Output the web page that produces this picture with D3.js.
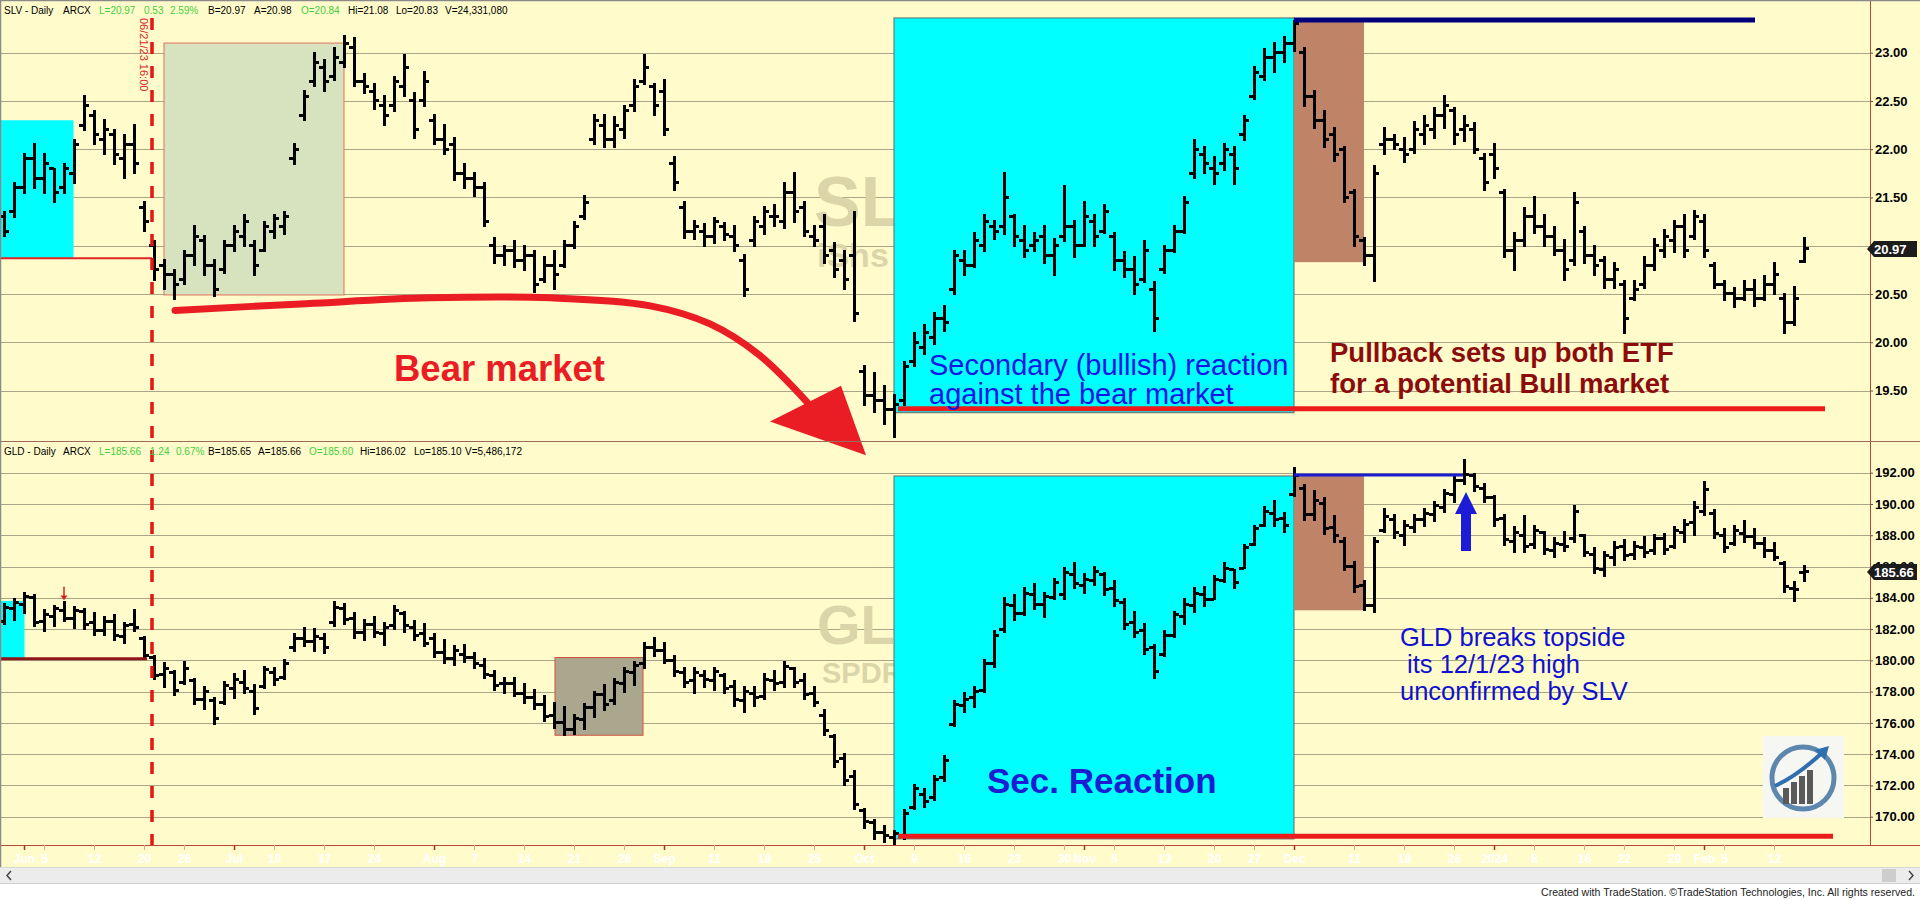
<!DOCTYPE html>
<html>
<head>
<meta charset="utf-8">
<script src="https://cdn.jsdelivr.net/npm/d3@7/dist/d3.min.js"></script>
<style>
  body { margin: 0; background: #fff; overflow: hidden; }
  svg { display: block; font-family: "Liberation Sans", Arial, sans-serif; }
</style>
</head>
<body>
<svg id="chart"></svg>
<script>
// header texts
const slvHeader = ['SLV - Daily', 'ARCX', 'L=20.97', '0.53', '2.59%', 'B=20.97', 'A=20.98', 'O=20.84', 'Hi=21.08', 'Lo=20.83', 'V=24,331,080'];
const gldHeader = ['GLD - Daily', 'ARCX', 'L=185.66', '1.24', '0.67%', 'B=185.65', 'A=185.66', 'O=185.60', 'Hi=186.02', 'Lo=185.10', 'V=5,486,172'];

// price axis ticks and last prices
const slvTicks = [19.5, 20, 20.5, 21, 21.5, 22, 22.5, 23];
const gldTicks = [170, 172, 174, 176, 178, 180, 182, 184, 186, 188, 190, 192];
const slvLast = 20.97;
const gldLast = 185.66;

// date axis: bar index (0 = May 30 2023) and label
const xTickIdx = [2, 4, 9, 14, 18, 23, 27, 32, 37, 43, 47, 52, 57, 62, 66, 71, 76, 81, 86, 91, 96, 101, 106, 108, 111, 116, 121, 125, 129, 135, 140, 145, 149, 153, 158, 162, 167, 170, 172, 177];
const xTickText = ['Jun', '5', '12', '20', '26', 'Jul', '10', '17', '24', 'Aug', '7', '14', '21', '28', 'Sep', '11', '18', '25', 'Oct', '9', '16', '23', '30', 'Nov', '6', '13', '20', '27', 'Dec', '11', '18', '26', '2024', '8', '16', '22', '29', 'Feb', '5', '12'];
const monthTicks = ['Jun', 'Jul', 'Aug', 'Sep', 'Oct', 'Nov', 'Dec', '2024', 'Feb'];

// SLV daily bars [open, high, low, close]
const slvBars = [
  [21.30,21.35,21.10,21.15],[21.35,21.65,21.30,21.60],[21.60,21.95,21.55,21.90],[21.90,22.05,21.60,21.70],[21.70,21.95,21.55,21.85],
  [21.80,21.80,21.45,21.55],[21.60,21.85,21.55,21.80],[21.75,22.10,21.65,22.05],[22.25,22.55,22.20,22.45],[22.35,22.40,22.05,22.15],
  [22.10,22.30,21.95,22.20],[22.15,22.20,21.85,21.95],[21.90,22.15,21.70,22.05],[22.05,22.25,21.75,21.85],[21.40,21.45,21.15,21.25],
  [21.00,21.05,20.65,20.75],[20.80,20.85,20.55,20.70],[20.70,20.75,20.45,20.60],[20.65,20.95,20.60,20.90],[20.90,21.20,20.80,21.10],
  [21.05,21.10,20.70,20.80],[20.80,20.85,20.48,20.55],[20.75,21.05,20.72,21.00],[21.00,21.20,20.95,21.15],[21.10,21.32,21.00,21.25],
  [21.00,21.05,20.70,20.80],[20.95,21.25,20.95,21.20],[21.15,21.32,21.08,21.28],[21.20,21.35,21.12,21.30],[21.90,22.05,21.85,22.00],
  [22.35,22.60,22.30,22.55],[22.70,23.00,22.65,22.90],[22.85,22.92,22.60,22.70],[22.75,23.05,22.72,22.95],[22.90,23.17,22.85,23.10],
  [23.05,23.15,22.65,22.70],[22.70,22.78,22.58,22.65],[22.60,22.68,22.42,22.50],[22.45,22.55,22.25,22.35],[22.45,22.75,22.40,22.70],
  [22.65,22.98,22.55,22.85],[22.50,22.58,22.12,22.20],[22.50,22.80,22.45,22.70],[22.30,22.35,22.05,22.10],[22.10,22.25,21.95,22.00],
  [22.05,22.12,21.68,21.75],[21.75,21.85,21.60,21.70],[21.70,21.75,21.52,21.60],[21.60,21.65,21.20,21.25],[21.00,21.08,20.82,20.90],
  [20.90,21.00,20.80,20.95],[20.95,21.05,20.78,20.85],[20.85,21.00,20.75,20.90],[20.90,20.95,20.52,20.60],[20.65,20.88,20.62,20.80],
  [20.80,20.95,20.55,20.70],[20.80,21.05,20.78,21.00],[21.00,21.25,20.98,21.20],[21.30,21.52,21.28,21.45],[22.10,22.35,22.05,22.30],
  [22.25,22.35,22.02,22.10],[22.10,22.33,22.02,22.25],[22.20,22.45,22.12,22.40],[22.45,22.72,22.40,22.65],[22.70,22.98,22.68,22.85],
  [22.65,22.68,22.35,22.45],[22.60,22.72,22.15,22.20],[21.85,21.92,21.58,21.65],[21.40,21.45,21.08,21.15],[21.15,21.26,21.07,21.20],
  [21.15,21.22,21.00,21.10],[21.10,21.29,21.03,21.25],[21.20,21.24,21.06,21.12],[21.10,21.20,20.95,21.00],[20.85,20.90,20.48,20.55],
  [21.05,21.30,21.00,21.25],[21.20,21.40,21.12,21.35],[21.30,21.42,21.20,21.30],[21.25,21.65,21.18,21.55],[21.55,21.75,21.25,21.35],
  [21.40,21.45,21.10,21.15],[21.10,21.20,21.00,21.05],[21.20,21.32,20.82,20.90],[20.95,21.03,20.68,20.75],[20.85,20.95,20.55,20.65],
  [20.90,21.35,20.22,20.30],[19.70,19.75,19.35,19.45],[19.45,19.68,19.28,19.40],[19.40,19.55,19.15,19.30],[19.30,19.45,19.02,19.35],
  [19.40,19.80,19.35,19.75],[19.80,20.10,19.75,20.00],[19.95,20.18,19.88,20.10],[20.05,20.30,19.98,20.25],[20.25,20.38,20.12,20.20],
  [20.55,20.95,20.50,20.90],[20.85,20.95,20.70,20.80],[20.80,21.13,20.78,21.05],[21.00,21.32,20.95,21.25],[21.20,21.26,21.07,21.15],
  [21.20,21.75,21.12,21.50],[21.30,21.32,21.00,21.10],[21.05,21.20,20.88,20.95],[21.00,21.13,20.95,21.05],[21.10,21.20,20.82,20.90],
  [20.90,21.07,20.70,21.00],[21.10,21.62,21.05,21.20],[21.20,21.26,20.88,21.00],[21.00,21.45,21.00,21.30],[21.25,21.32,21.00,21.10],
  [21.15,21.42,21.13,21.35],[21.10,21.13,20.75,20.85],[20.85,20.94,20.68,20.75],[20.75,20.88,20.50,20.60],[20.65,21.05,20.62,20.95],
  [20.55,20.62,20.12,20.25],[20.75,21.00,20.72,20.95],[20.95,21.20,20.94,21.15],[21.15,21.51,21.13,21.45],[21.75,22.10,21.70,22.00],
  [21.95,22.02,21.75,21.85],[21.80,21.92,21.64,21.75],[21.85,22.05,21.78,22.00],[21.95,22.02,21.64,21.80],[22.15,22.34,22.10,22.30],
  [22.55,22.85,22.52,22.80],[22.75,23.04,22.72,22.95],[22.95,23.10,22.80,23.00],[23.00,23.16,22.90,23.10],[23.10,23.33,23.02,23.30],
  [23.00,23.05,22.45,22.55],[22.55,22.60,22.22,22.30],[22.30,22.40,22.02,22.10],[22.15,22.22,21.88,21.95],[22.00,22.02,21.45,21.50],
  [21.55,21.58,21.00,21.10],[21.05,21.08,20.80,20.90],[20.90,21.83,20.63,21.75],[22.05,22.22,21.95,22.10],[22.10,22.15,22.00,22.05],
  [22.00,22.12,21.87,21.95],[22.00,22.28,21.96,22.20],[22.15,22.34,22.05,22.25],[22.20,22.43,22.12,22.35],[22.35,22.55,22.22,22.45],
  [22.40,22.43,22.05,22.15],[22.20,22.34,22.08,22.25],[22.20,22.27,21.96,22.00],[21.90,21.95,21.58,21.65],[21.95,22.05,21.70,21.80],
  [21.55,21.58,20.88,20.95],[20.95,21.13,20.75,21.05],[21.05,21.39,21.00,21.30],[21.30,21.51,21.13,21.20],[21.20,21.32,21.00,21.10],
  [21.10,21.19,20.90,20.95],[20.95,21.06,20.65,20.75],[20.85,21.55,20.80,21.45],[21.15,21.19,20.82,20.90],[20.90,21.00,20.70,20.80],
  [20.85,20.88,20.56,20.65],[20.65,20.82,20.56,20.75],[20.60,20.63,20.10,20.25],[20.45,20.63,20.44,20.55],[20.60,20.88,20.56,20.80],
  [20.80,21.07,20.75,21.00],[20.95,21.16,20.88,21.10],[21.05,21.26,20.94,21.20],[21.20,21.32,20.88,20.95],[21.10,21.36,21.07,21.30],
  [21.25,21.32,20.88,20.95],[20.80,20.82,20.56,20.60],[20.60,20.63,20.44,20.50],[20.50,20.56,20.37,20.45],[20.45,20.63,20.44,20.55],
  [20.55,20.65,20.38,20.45],[20.45,20.69,20.44,20.60],[20.60,20.82,20.50,20.70],[20.45,20.50,20.10,20.20],[20.20,20.57,20.18,20.45],
  [20.84,21.08,20.83,20.97]
];

// GLD daily bars [open, high, low, close]
const gldBars = [
  [182.5,183.6,182.3,183.4],[183.3,183.9,182.6,183.7],[183.6,184.3,183.0,184.1],[184.0,184.2,182.2,182.4],[182.5,183.2,181.9,182.9],
  [182.8,183.5,182.2,183.3],[183.2,183.7,182.5,182.7],[182.7,183.4,182.1,183.2],[183.1,183.3,182.0,182.3],[182.4,183.0,181.6,181.9],
  [181.9,182.8,181.6,182.5],[182.5,182.9,181.3,181.6],[181.5,182.4,181.1,182.2],[182.3,183.2,181.9,182.1],[181.4,181.5,180.1,180.3],
  [180.2,180.3,178.8,179.0],[179.1,179.8,178.3,179.5],[179.2,179.3,177.8,178.1],[178.6,179.9,178.5,179.5],[178.7,178.8,177.2,177.5],
  [177.5,178.3,176.9,178.0],[177.4,177.6,175.9,176.3],[177.3,178.6,177.2,178.4],[178.2,179.1,177.6,178.8],[178.6,179.3,177.9,178.2],
  [178.0,178.4,176.6,176.9],[178.3,179.6,178.2,179.4],[179.2,179.5,178.4,178.8],[178.9,180.0,178.8,179.8],[180.8,181.7,180.6,181.4],
  [181.4,182.1,180.9,181.2],[181.2,182.0,180.6,181.5],[181.4,181.7,180.5,180.8],[182.4,183.7,182.2,183.4],[183.3,183.6,182.3,182.6],
  [182.7,183.0,181.4,181.8],[181.8,182.6,181.3,182.3],[182.3,182.8,181.5,181.8],[181.7,182.4,181.0,182.1],[182.2,183.5,182.0,183.2],
  [183.0,183.1,181.8,182.2],[182.1,182.5,181.3,181.6],[181.7,182.3,180.9,181.1],[181.4,181.7,180.2,180.5],[180.5,181.3,179.8,180.1],
  [180.1,180.9,179.7,180.6],[180.4,181.0,179.9,180.2],[180.2,180.5,179.5,179.8],[179.7,180.1,178.9,179.1],[179.0,179.3,178.1,178.4],
  [178.5,178.9,177.9,178.5],[178.5,178.9,177.7,177.9],[177.9,178.5,177.3,177.6],[177.6,178.1,176.9,177.2],[177.2,177.7,176.1,176.4],
  [176.5,177.3,175.7,176.0],[176.0,177.0,175.2,175.6],[175.6,176.5,175.3,176.3],[176.2,177.2,175.6,177.0],[177.0,178.0,176.4,177.8],
  [177.8,178.4,176.8,177.2],[177.4,178.8,177.2,178.6],[178.5,179.5,178.0,179.3],[179.2,179.9,178.4,179.7],[179.8,181.1,179.5,180.8],
  [180.8,181.4,180.3,180.6],[180.6,181.1,179.8,180.0],[180.0,180.3,179.0,179.3],[179.2,179.5,178.3,178.6],[178.7,179.5,177.9,179.2],
  [179.0,179.3,178.3,178.8],[178.7,179.5,178.1,179.3],[179.0,179.1,177.9,178.2],[178.3,178.7,177.1,177.5],[177.4,178.3,176.7,178.0],
  [177.9,178.3,177.1,177.6],[177.7,179.1,177.5,178.8],[178.7,179.3,178.1,178.5],[178.6,179.9,178.3,179.6],[179.5,179.5,178.3,178.6],
  [178.7,179.1,177.5,177.8],[177.9,178.3,177.1,177.3],[176.5,176.8,175.2,175.5],[175.1,175.2,173.2,173.5],[173.7,174.0,172.0,172.3],
  [172.6,172.9,170.5,170.8],[170.4,170.5,169.3,169.7],[169.6,169.8,168.6,169.0],[169.0,169.4,168.4,168.8],[168.7,169.1,168.2,168.9],
  [168.8,170.4,168.6,170.2],[170.6,172.0,170.5,171.8],[171.4,171.8,170.6,171.0],[171.2,172.6,171.1,172.4],[172.5,173.9,172.3,173.6],
  [175.9,177.4,175.8,177.2],[177.1,177.9,176.7,177.5],[177.6,178.3,177.0,178.0],[178.1,180.0,178.0,179.8],[179.8,181.9,179.6,181.6],
  [182.0,184.0,181.8,183.6],[183.5,184.2,182.6,183.0],[183.0,184.6,182.9,184.3],[184.2,184.9,183.3,183.6],[183.6,184.3,182.8,184.1],
  [184.0,185.2,183.9,185.0],[184.2,185.9,183.9,185.6],[185.5,186.2,184.6,184.9],[184.8,185.5,184.3,185.2],[185.1,186.0,184.8,185.7],
  [185.5,185.6,184.2,184.5],[184.6,185.1,183.5,183.8],[183.7,183.9,182.0,182.3],[182.4,183.1,181.5,181.8],[181.9,182.3,180.4,180.7],
  [180.8,181.0,178.9,179.3],[180.4,181.9,180.3,181.6],[181.6,183.1,181.5,182.9],[182.8,183.9,182.3,183.6],[183.5,184.6,183.1,184.3],
  [184.2,184.7,183.5,183.9],[183.9,185.4,183.9,185.2],[185.1,186.2,185.0,185.9],[185.8,185.8,184.6,185.0],[185.9,187.4,185.9,187.2],
  [187.4,188.6,187.4,188.4],[188.6,189.8,188.6,189.5],[189.4,190.2,188.6,189.0],[189.1,189.4,188.2,188.6],[190.6,192.3,190.5,191.8],
  [191.0,191.2,189.0,189.3],[189.3,190.8,189.0,190.2],[190.0,190.4,188.1,188.4],[188.5,189.2,187.6,188.0],[187.6,187.8,185.8,186.0],
  [186.0,186.3,184.4,184.7],[184.8,185.1,183.2,183.5],[183.5,187.8,183.1,187.6],[188.3,189.7,188.2,189.2],[189.0,189.3,187.8,188.2],
  [188.0,188.9,187.4,188.6],[188.5,189.3,188.2,189.0],[189.0,189.7,188.6,189.4],[189.3,190.1,188.9,189.9],[189.8,190.9,189.5,190.7],
  [190.6,191.7,190.1,191.5],[191.5,192.8,191.3,191.9],[191.8,191.9,190.8,191.1],[191.0,191.3,190.1,190.4],[190.4,190.5,188.6,189.0],
  [189.1,189.3,187.4,187.7],[187.6,188.5,186.9,188.2],[188.0,189.2,186.9,187.3],[187.4,188.6,187.2,188.3],[188.2,188.2,186.8,187.1],
  [187.0,187.8,186.6,187.5],[187.4,188.2,187.0,187.3],[187.8,189.9,187.6,189.5],[188.0,188.0,186.7,186.9],[186.8,187.2,185.6,185.9],
  [185.8,186.9,185.4,186.7],[186.6,187.6,186.1,187.2],[187.3,187.7,186.4,186.7],[186.8,187.6,186.5,187.3],[187.2,187.9,186.6,186.9],
  [187.0,188.0,186.8,187.8],[187.8,188.1,186.8,187.1],[187.3,188.5,187.2,188.3],[188.2,189.0,187.6,188.7],[188.8,190.1,188.0,189.8],
  [189.5,191.4,189.3,190.9],[189.4,189.6,187.8,188.1],[188.0,188.4,186.9,187.2],[187.5,188.6,187.4,188.3],[188.1,188.9,187.6,187.9],
  [187.9,188.4,187.2,187.5],[187.5,187.8,186.6,187.0],[187.0,187.5,186.4,186.6],[186.2,186.3,184.4,184.7],[184.6,185.0,183.8,184.5],
  [185.60,186.02,185.10,185.66]
];

// layout
const width = 1920;
const height = 901;
const plotRight = 1870;
const axisY = 845;
const bg = '#fffbca';
const fontBase = '"Liberation Sans", Arial, sans-serif';
const slvHeaderX = [4, 63, 99, 144, 170, 208, 254, 301, 348, 396, 445];
const gldHeaderX = [4, 63, 99, 150, 176, 208, 258, 309, 360, 414, 465];

const svg = d3.select('#chart')
  .attr('width', width)
  .attr('height', height);

// scales: bar index -> x, price -> y per panel
const x = d3.scaleLinear().domain([0, 180]).range([4, 1804]);
const ySlv = d3.scaleLinear().domain([19.5, 23]).range([390.5, 52.7]);
const yGld = d3.scaleLinear().domain([170, 192]).range([816.7, 472.7]);

// background
svg.append('rect').attr('width', width).attr('height', height).attr('fill', '#ffffff');
svg.append('rect').attr('width', width).attr('height', 867).attr('fill', bg);

// gridlines
function grid(scale, ticks) {
  svg.append('g')
    .attr('shape-rendering', 'crispEdges')
    .selectAll('line')
    .data(ticks)
    .enter()
    .append('line')
    .attr('x1', 0)
    .attr('x2', plotRight)
    .attr('y1', d => Math.round(scale(d)) + 0.5)
    .attr('y2', d => Math.round(scale(d)) + 0.5)
    .attr('stroke', '#aaa587')
    .attr('stroke-width', 1);
}
grid(ySlv, slvTicks);
grid(yGld, gldTicks);

// watermarks
const wm = '#dbd5a9';
function watermark(tx, ty, size, txt) {
  svg.append('text')
    .attr('x', tx).attr('y', ty)
    .attr('font-size', size).attr('font-weight', 'bold')
    .attr('fill', wm)
    .text(txt);
}
watermark(814, 226, 70, 'SLV');
watermark(817, 267, 34, 'iShs Silver Trust');
watermark(817, 644, 56, 'GLD');
watermark(822, 683, 29, 'SPDR Gold Shares');

// shaded zones behind the bars
function zone(scale, i0, i1, p0, p1, fill, stroke) {
  svg.append('rect')
    .attr('x', x(i0))
    .attr('y', scale(p0))
    .attr('width', x(i1) - x(i0))
    .attr('height', scale(p1) - scale(p0))
    .attr('fill', fill)
    .attr('stroke', stroke || 'none')
    .attr('stroke-width', 1);
}
zone(ySlv, -0.4, 6.95, 22.30, 20.87, '#00ffff');
zone(ySlv, 16, 34, 23.10, 20.49, '#d7e3bf', '#e2715f');
zone(ySlv, 89, 129, 23.36, 19.27, '#00ffff', '#666');
zone(ySlv, 129, 136, 23.32, 20.83, '#bf8468');
zone(yGld, -0.4, 2.05, 183.8, 180.1, '#00ffff');
zone(yGld, 55.1, 63.9, 180.18, 175.21, '#aba78f', '#d0503f');
zone(yGld, 89, 129, 191.79, 168.58, '#00ffff', '#666');
zone(yGld, 129, 136, 191.85, 183.2, '#bf8468');

// OHLC bars
function drawBars(bars, scale) {
  svg.append('g')
    .attr('shape-rendering', 'crispEdges')
    .selectAll('path')
    .data(bars)
    .enter()
    .append('path')
    .attr('d', (d, i) => {
      const cx = x(i);
      return `M${cx},${scale(d[1]) - 1}V${scale(d[2]) + 1}` +
        `M${cx - 5},${scale(d[0])}H${cx}` +
        `M${cx},${scale(d[3])}H${cx + 5}`;
    })
    .attr('stroke', '#000')
    .attr('stroke-width', 3)
    .attr('fill', 'none');
}
drawBars(slvBars, ySlv);
drawBars(gldBars, yGld);

// level lines
function level(scale, i0, i1, p, color, w) {
  svg.append('line')
    .attr('x1', x(i0)).attr('x2', x(i1))
    .attr('y1', scale(p)).attr('y2', scale(p))
    .attr('stroke', color).attr('stroke-width', w);
}
level(ySlv, -0.4, 14.8, 20.87, '#e02424', 2);
level(yGld, -0.4, 14.3, 180.1, '#8e1616', 3);
level(ySlv, 89.4, 182.1, 19.31, '#ec1c1c', 5);
level(yGld, 89.4, 182.9, 168.75, '#ec1c1c', 5);
level(ySlv, 129, 175.1, 23.34, '#00007c', 5);
level(yGld, 129, 145.9, 191.85, '#1c1cd0', 3);

// red dashed vertical at 06/21/23
svg.append('line')
  .attr('x1', x(14.8)).attr('x2', x(14.8))
  .attr('y1', 18).attr('y2', axisY)
  .attr('stroke', '#e81414')
  .attr('stroke-width', 3.5)
  .attr('stroke-dasharray', '12,12');
svg.append('text')
  .attr('transform', `translate(${x(14.8) - 12},18) rotate(90)`)
  .attr('font-size', 11)
  .attr('fill', '#d42a2a')
  .text('06/21/23 16:00');

// small red arrow over GLD
const sa = x(6);
svg.append('path')
  .attr('d', `M${sa},${yGld(184.7)}V${yGld(184.1)}`)
  .attr('stroke', '#e02020').attr('stroke-width', 1.5);
svg.append('path')
  .attr('d', `M${sa - 3.5},${yGld(184.15)}L${sa + 3.5},${yGld(184.15)}L${sa},${yGld(183.85)}Z`)
  .attr('fill', '#e02020');

// big curved arrow: points in (bar index, SLV price)
const curve = [[17.1, 20.33], [30.2, 20.40], [42.5, 20.46], [54.7, 20.46], [64.5, 20.38], [70.6, 20.19], [75.5, 19.87], [80.3, 19.38]];
svg.append('path')
  .attr('d', d3.line().x(d => x(d[0])).y(d => ySlv(d[1])).curve(d3.curveCatmullRom)(curve))
  .attr('fill', 'none')
  .attr('stroke', '#ea1c24')
  .attr('stroke-width', 7)
  .attr('stroke-linecap', 'round');
const head = [[86.2, 18.83], [76.6, 19.18], [83.7, 19.55]];
svg.append('path')
  .attr('d', 'M' + head.map(d => `${x(d[0])},${ySlv(d[1])}`).join('L') + 'Z')
  .attr('fill', '#ea1c24');

// blue up arrow under the GLD breakout
const ba = x(146.2);
const bTip = yGld(190.76);
const bBase = yGld(187.0);
svg.append('path')
  .attr('d', `M${ba},${bTip}L${ba + 11},${bTip + 22}L${ba + 5},${bTip + 22}L${ba + 5},${bBase}` +
    `L${ba - 5},${bBase}L${ba - 5},${bTip + 22}L${ba - 11},${bTip + 22}Z`)
  .attr('fill', '#1c1cd8');

// annotation texts
function note(tx, ty, size, weight, color, txt) {
  svg.append('text')
    .attr('x', tx).attr('y', ty)
    .attr('font-size', size).attr('font-weight', weight)
    .attr('fill', color)
    .attr('xml:space', 'preserve')
    .text(txt);
}
note(394, 381, 36.5, 'bold', '#ea1c24', 'Bear market');
note(929, 375, 29, 'normal', '#1414e6', 'Secondary (bullish) reaction');
note(929, 404, 29, 'normal', '#1414e6', 'against the bear market');
note(1330, 362, 27.5, 'bold', '#8c0c0c', 'Pullback sets up both ETF');
note(1330, 393, 27.5, 'bold', '#8c0c0c', 'for a potential Bull market');
note(987, 793, 35, 'bold', '#1c1cd4', 'Sec. Reaction');
note(1400, 646, 25.5, 'normal', '#1010d0', 'GLD breaks topside');
note(1400, 673, 25.5, 'normal', '#1010d0', ' its 12/1/23 high');
note(1400, 700, 25.5, 'normal', '#1010d0', 'unconfirmed by SLV');

// logo
const logo = svg.append('g').attr('transform', 'translate(1763,736)');
logo.append('rect').attr('width', 81).attr('height', 82).attr('fill', '#f6f6f2');
logo.append('circle').attr('cx', 40).attr('cy', 42).attr('r', 31)
  .attr('fill', 'none').attr('stroke', '#5d87ad').attr('stroke-width', 5);
[[20, 52, 16], [28, 46, 22], [36, 40, 28], [44, 34, 34]].forEach(b => {
  logo.append('rect').attr('x', b[0]).attr('y', b[1]).attr('width', 6).attr('height', b[2]).attr('fill', '#5a5a5a');
});
logo.append('path').attr('d', 'M12,50 Q34,40 60,16').attr('fill', 'none').attr('stroke', '#2f6fb0').attr('stroke-width', 4);
logo.append('path').attr('d', 'M66,10 L52,14 L62,24 Z').attr('fill', '#2f6fb0');

// frame lines
const frame = '#b44a36';
svg.append('line').attr('x1', plotRight + 0.5).attr('x2', plotRight + 0.5).attr('y1', 0).attr('y2', axisY)
  .attr('stroke', frame).attr('stroke-width', 1);
svg.append('line').attr('x1', 0).attr('x2', width).attr('y1', 441.5).attr('y2', 441.5)
  .attr('stroke', '#9c6a5c').attr('stroke-width', 1);
svg.append('line').attr('x1', 0).attr('x2', width).attr('y1', axisY + 0.5).attr('y2', axisY + 0.5)
  .attr('stroke', frame).attr('stroke-width', 1);
svg.append('line').attr('x1', 0).attr('x2', width).attr('y1', 0.5).attr('y2', 0.5)
  .attr('stroke', '#8a8a8a').attr('stroke-width', 1.5);
svg.append('line').attr('x1', 0.5).attr('x2', 0.5).attr('y1', 0).attr('y2', 867)
  .attr('stroke', '#8a8a8a').attr('stroke-width', 1.5);

// price axes
function priceAxis(scale, ticks) {
  const g = svg.append('g')
    .attr('transform', `translate(${plotRight},0)`)
    .call(d3.axisRight(scale).tickValues(ticks).tickSize(3).tickPadding(2).tickFormat(d3.format('.2f')));
  g.select('.domain').remove();
  g.selectAll('.tick line').attr('stroke', '#555');
  g.selectAll('.tick text')
    .attr('fill', '#000')
    .attr('font-size', 13)
    .attr('font-weight', 'bold')
    .attr('font-family', fontBase);
}
priceAxis(ySlv, slvTicks);
priceAxis(yGld, gldTicks);

// last price tags
function tag(scale, v) {
  const ty = Math.round(scale(v));
  svg.append('path')
    .attr('d', `M${plotRight - 3},${ty}L${plotRight + 4},${ty - 8}H1917V${ty + 8}H${plotRight + 4}Z`)
    .attr('fill', '#1c1c1c');
  svg.append('text')
    .attr('x', plotRight + 4).attr('y', ty + 5)
    .attr('font-size', 13).attr('font-weight', 'bold')
    .attr('fill', '#fff')
    .text(d3.format('.2f')(v));
}
tag(ySlv, slvLast);
tag(yGld, gldLast);

// headers
function header(chunks, xs, ty) {
  chunks.forEach((c, i) => {
    const green = [2, 3, 4, 7].includes(i);
    svg.append('text')
      .attr('x', xs[i]).attr('y', ty)
      .attr('font-size', 10)
      .attr('fill', green ? '#3fcf3f' : '#000')
      .text(c);
  });
}
header(slvHeader, slvHeaderX, 14);
header(gldHeader, gldHeaderX, 455);

// date axis
const xa = svg.append('g')
  .attr('transform', `translate(0,${axisY})`)
  .call(d3.axisBottom(x).tickValues(xTickIdx).tickSize(5).tickPadding(4).tickFormat((d, i) => xTickText[i]));
xa.select('.domain').remove();
xa.selectAll('.tick line')
  .attr('stroke', (d, i) => monthTicks.includes(xTickText[i]) ? '#a8321e' : '#e8a888')
  .attr('stroke-width', (d, i) => monthTicks.includes(xTickText[i]) ? 1.5 : 1);
xa.selectAll('.tick text')
  .attr('fill', '#ffffff')
  .attr('font-size', 12)
  .attr('font-weight', 'bold')
  .attr('font-family', fontBase);

// scrollbar and footer
svg.append('rect').attr('x', 0).attr('y', 867).attr('width', width).attr('height', 17).attr('fill', '#ececec');
svg.append('line').attr('x1', 0).attr('x2', width).attr('y1', 867.5).attr('y2', 867.5).attr('stroke', '#d8d8d8');
svg.append('line').attr('x1', 0).attr('x2', width).attr('y1', 883.5).attr('y2', 883.5).attr('stroke', '#cfcfcf');
svg.append('rect').attr('x', 1882).attr('y', 869).attr('width', 14).attr('height', 13).attr('fill', '#cdcdcd');
svg.append('path').attr('d', 'M11,871L7,875.5L11,880').attr('fill', 'none').attr('stroke', '#444').attr('stroke-width', 1.5);
svg.append('path').attr('d', 'M1909,871L1913,875.5L1909,880').attr('fill', 'none').attr('stroke', '#444').attr('stroke-width', 1.5);
svg.append('text')
  .attr('x', 1541).attr('y', 896)
  .attr('font-size', 10.5)
  .attr('fill', '#222')
  .attr('textLength', 374)
  .attr('lengthAdjust', 'spacingAndGlyphs')
  .text('Created with TradeStation. ©TradeStation Technologies, Inc. All rights reserved.');
</script>
</body>
</html>
